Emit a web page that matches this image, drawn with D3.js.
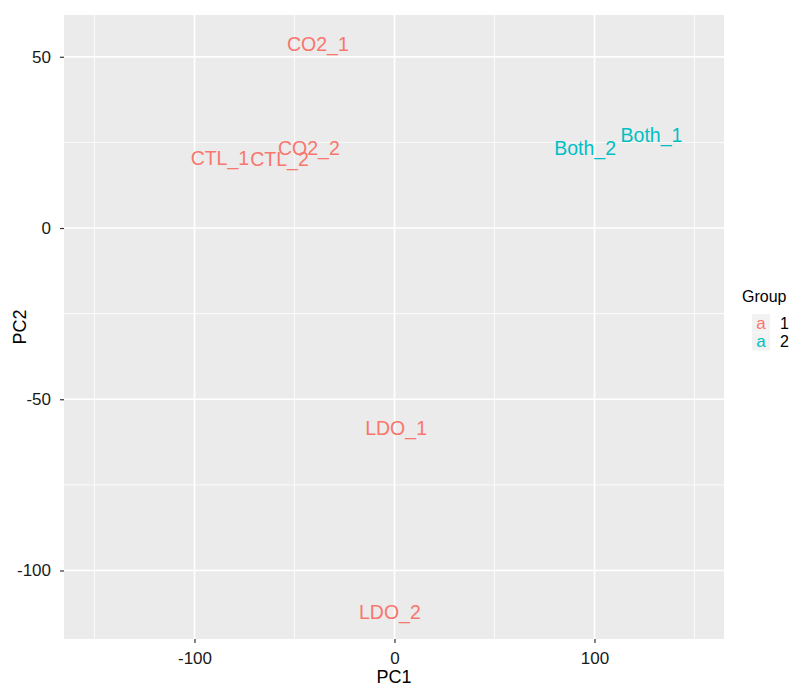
<!DOCTYPE html>
<html>
<head>
<meta charset="utf-8">
<script src="https://cdn.jsdelivr.net/npm/d3@7"></script>
<style>
  html, body { margin: 0; padding: 0; background: #fff; }
  svg { display: block; font-family: "Liberation Sans", Arial, Helvetica, sans-serif; }
</style>
</head>
<body>
<svg id="chart" width="795" height="691"></svg>
<script>
// ---- data ----
const samples = ["CO2_1", "CO2_2", "CTL_1", "CTL_2", "Both_2", "Both_1", "LDO_1", "LDO_2"];
const pc1 = [-38.3, -42.8, -87.3, -57.5, 95.3, 128.5, 0.8, -2.3];
const pc2 = [53.7, 23.4, 20.4, 20.2, 23.4, 27.1, -58.4, -112.1];
const groups = ["1", "1", "1", "1", "2", "2", "1", "1"];
const groupLevels = ["1", "2"];
const xTicks = [-100, 0, 100];
const yTicks = [-100, -50, 0, 50];
const xMinor = [-150, -50, 50, 150];
const yMinor = [-75, -25, 25];

// ---- layout ----
const svg = d3.select("#chart");
const panel = { left: 64, right: 724, top: 15, bottom: 639 };

const x = d3.scaleLinear().domain([-165.25, 164.75]).range([panel.left, panel.right]);
const y = d3.scaleLinear().domain([-120, 62.2]).range([panel.bottom, panel.top]);
const color = d3.scaleOrdinal().domain(groupLevels).range(["#F8766D", "#00BFC4"]);

// panel background
svg.append("rect")
  .attr("x", panel.left).attr("y", panel.top)
  .attr("width", panel.right - panel.left).attr("height", panel.bottom - panel.top)
  .attr("fill", "#EBEBEB");

const grid = svg.append("g");
// minor grid
grid.selectAll(".xminor").data(xMinor).join("line")
  .attr("x1", d => x(d)).attr("x2", d => x(d))
  .attr("y1", panel.top).attr("y2", panel.bottom)
  .attr("stroke", "#fff").attr("stroke-width", 0.8);
grid.selectAll(".yminor").data(yMinor).join("line")
  .attr("y1", d => y(d)).attr("y2", d => y(d))
  .attr("x1", panel.left).attr("x2", panel.right)
  .attr("stroke", "#fff").attr("stroke-width", 0.8);
// major grid
grid.selectAll(".xmajor").data(xTicks).join("line")
  .attr("x1", d => x(d)).attr("x2", d => x(d))
  .attr("y1", panel.top).attr("y2", panel.bottom)
  .attr("stroke", "#fff").attr("stroke-width", 1.7);
grid.selectAll(".ymajor").data(yTicks).join("line")
  .attr("y1", d => y(d)).attr("y2", d => y(d))
  .attr("x1", panel.left).attr("x2", panel.right)
  .attr("stroke", "#fff").attr("stroke-width", 1.7);

// axes
const fmt = d => String(d);
const xAxis = d3.axisBottom(x).tickValues(xTicks).tickSize(4).tickPadding(9).tickFormat(fmt);
const yAxis = d3.axisLeft(y).tickValues(yTicks).tickSize(4).tickPadding(9).tickFormat(fmt);

const gx = svg.append("g").attr("transform", `translate(0,${panel.bottom})`).call(xAxis);
const gy = svg.append("g").attr("transform", `translate(${panel.left},0)`).call(yAxis);
[gx, gy].forEach(g => {
  g.select(".domain").remove();
  g.selectAll(".tick line").attr("stroke", "#333").attr("stroke-width", 1.2);
  g.selectAll(".tick text").attr("fill", "#1a1a1a").style("font-size", "17px")
    .style("font-family", "'Liberation Sans', Arial, sans-serif");
});

// axis titles
svg.append("text")
  .attr("x", (panel.left + panel.right) / 2).attr("y", 683)
  .attr("text-anchor", "middle").attr("fill", "#000")
  .style("font-size", "18px").text("PC1");
svg.append("text")
  .attr("transform", `translate(26,${(panel.top + panel.bottom) / 2}) rotate(-90)`)
  .attr("text-anchor", "middle").attr("fill", "#000")
  .style("font-size", "18px").text("PC2");

// labels
svg.append("g").selectAll("text").data(samples).join("text")
  .attr("x", (d, i) => x(pc1[i]))
  .attr("y", (d, i) => y(pc2[i]))
  .attr("dy", "0.35em")
  .attr("text-anchor", "middle")
  .attr("fill", (d, i) => color(groups[i]))
  .style("font-size", "19.5px")
  .text(d => d);

// legend
const lg = svg.append("g");
lg.append("text").attr("x", 742).attr("y", 302)
  .attr("fill", "#000").style("font-size", "16px").text("Group");
const items = lg.selectAll(".item").data(groupLevels).join("g")
  .attr("transform", (d, i) => `translate(752,${314 + i * 18.5})`);
items.append("rect").attr("width", 18).attr("height", 18).attr("fill", "#F2F2F2");
items.append("text").attr("x", 9).attr("y", 9).attr("dy", "0.35em")
  .attr("text-anchor", "middle").attr("fill", d => color(d))
  .style("font-size", "17px").text("a");
items.append("text").attr("x", 28).attr("y", 9).attr("dy", "0.35em")
  .attr("fill", "#000").style("font-size", "16px").text(d => d);
</script>
</body>
</html>
